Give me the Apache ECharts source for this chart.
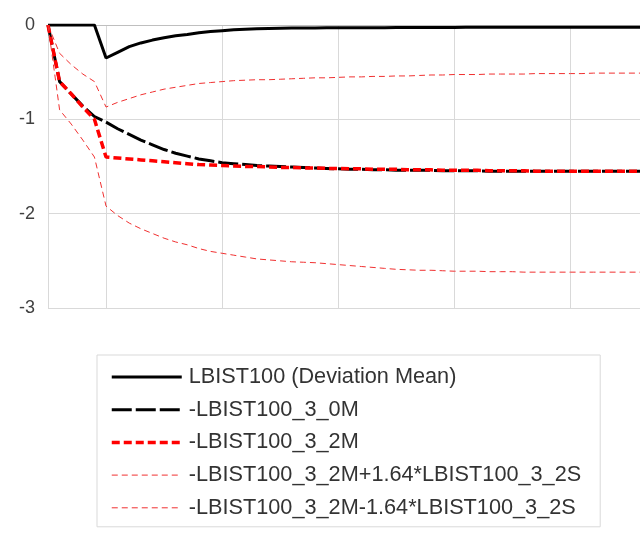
<!DOCTYPE html>
<html>
<head>
<meta charset="utf-8">
<script src="https://cdn.jsdelivr.net/npm/echarts@6/dist/echarts.min.js"></script>
<style>html,body{margin:0;padding:0;background:#fff;}#c{width:640px;height:533px;}</style>
</head>
<body>
<div id="c"></div>
<script>
var periods = [1,2,3,4,5,6,7,8,9,10,11,12,13,14,15,16,17,18,19,20,21,22,23,24,25,26,27,28,29,30,31,32,33,34,35,36,37,38,39,40,41,42,43,44,45,46,47,48,49,50,51,52];
var yTicks = [0, -1, -2, -3];
var seriesNames = ['LBIST100 (Deviation Mean)', '-LBIST100_3_0M', '-LBIST100_3_2M', '-LBIST100_3_2M+1.64*LBIST100_3_2S', '-LBIST100_3_2M-1.64*LBIST100_3_2S'];

var devMean = [0,0,0,0,0,-0.35,-0.29,-0.23,-0.19,-0.16,-0.135,-0.115,-0.10,-0.082,-0.07,-0.06,-0.05,-0.045,-0.04,-0.036,-0.034,-0.033,-0.032,-0.031,-0.030,-0.030,-0.029,-0.029,-0.028,-0.028,-0.027,-0.027,-0.027,-0.026,-0.026,-0.026,-0.025,-0.025,-0.025,-0.025,-0.025,-0.025,-0.025,-0.025,-0.025,-0.025,-0.025,-0.025,-0.025,-0.025,-0.025,-0.025];
var m30 = [0,-0.60,-0.73,-0.86,-0.97,-1.03,-1.10,-1.16,-1.22,-1.27,-1.32,-1.36,-1.39,-1.42,-1.44,-1.46,-1.47,-1.48,-1.49,-1.495,-1.50,-1.505,-1.51,-1.515,-1.52,-1.525,-1.53,-1.53,-1.535,-1.535,-1.54,-1.54,-1.54,-1.54,-1.545,-1.545,-1.545,-1.545,-1.55,-1.55,-1.55,-1.55,-1.55,-1.55,-1.55,-1.55,-1.55,-1.55,-1.55,-1.55,-1.55,-1.55];
var m32 = [0,-0.60,-0.73,-0.87,-1.00,-1.40,-1.41,-1.42,-1.43,-1.44,-1.45,-1.46,-1.47,-1.48,-1.485,-1.49,-1.495,-1.50,-1.50,-1.505,-1.51,-1.51,-1.515,-1.515,-1.52,-1.52,-1.525,-1.525,-1.53,-1.53,-1.53,-1.535,-1.535,-1.535,-1.54,-1.54,-1.54,-1.54,-1.545,-1.545,-1.545,-1.545,-1.55,-1.55,-1.55,-1.55,-1.55,-1.55,-1.55,-1.55,-1.55,-1.55];
var upper = [0,-0.30,-0.42,-0.52,-0.60,-0.87,-0.82,-0.78,-0.74,-0.71,-0.68,-0.66,-0.64,-0.62,-0.61,-0.60,-0.59,-0.585,-0.58,-0.58,-0.575,-0.57,-0.565,-0.56,-0.56,-0.555,-0.55,-0.55,-0.545,-0.545,-0.54,-0.54,-0.535,-0.53,-0.53,-0.525,-0.525,-0.525,-0.52,-0.52,-0.52,-0.52,-0.515,-0.515,-0.515,-0.515,-0.515,-0.51,-0.51,-0.51,-0.51,-0.51];
var lower = [0,-0.90,-1.05,-1.22,-1.40,-1.92,-2.02,-2.10,-2.16,-2.21,-2.26,-2.30,-2.33,-2.37,-2.40,-2.42,-2.44,-2.46,-2.48,-2.49,-2.50,-2.51,-2.515,-2.52,-2.53,-2.54,-2.55,-2.56,-2.57,-2.58,-2.59,-2.595,-2.60,-2.60,-2.605,-2.61,-2.61,-2.61,-2.615,-2.615,-2.615,-2.62,-2.62,-2.62,-2.62,-2.62,-2.62,-2.62,-2.62,-2.62,-2.62,-2.62];

var chart = echarts.init(document.getElementById('c'), null, {renderer: 'canvas'});
function mk(name, data, color, width, type) {
  return {
    name: name, type: 'line', data: data, symbol: 'none', smooth: false,
    lineStyle: {color: color, width: width, type: type},
    itemStyle: {color: color},
    emphasis: {disabled: true}
  };
}
chart.setOption({
  animation: false,
  grid: {left: 48, right: 0, top: 25, bottom: 225, containLabel: false},
  legend: {
    orient: 'vertical',
    left: 97, top: 355,
    padding: [11, 19, 8, 13],
    borderColor: '#d9d9d9', borderWidth: 1,
    itemWidth: 70, itemHeight: 14, itemGap: 10.7,
    textStyle: {fontFamily: 'Liberation Sans', fontSize: 21.7, color: '#333', padding: [0,0,0,2]},
    lineStyle: {width: 'inherit'},
    itemStyle: {opacity: 0},
    data: seriesNames
  },
  xAxis: {
    type: 'category', data: periods, boundaryGap: false,
    axisLine: {show: true, lineStyle: {color: '#bfbfbf', width: 1}},
    axisTick: {show: false},
    axisLabel: {show: false},
    splitLine: {show: true, interval: function (i) { return i % 10 === 5; }, lineStyle: {color: '#d9d9d9', width: 1}}
  },
  yAxis: {
    type: 'value', min: yTicks[yTicks.length - 1], max: yTicks[0], interval: 1,
    axisLine: {show: true, lineStyle: {color: '#d9d9d9', width: 1}},
    axisTick: {show: false},
    axisLabel: {fontFamily: 'Liberation Sans', fontSize: 18, color: '#404040', margin: 13},
    splitLine: {show: true, lineStyle: {color: '#d9d9d9', width: 1}}
  },
  series: [
    mk(seriesNames[0], devMean, '#000000', 3, 'solid'),
    mk(seriesNames[1], m30, '#000000', 3, [20, 4]),
    mk(seriesNames[2], m32, '#ff0000', 3.5, [8, 4]),
    mk(seriesNames[3], upper, '#f03030', 1, [6, 4]),
    mk(seriesNames[4], lower, '#f03030', 1, [6, 4])
  ]
});
</script>
</body>
</html>
